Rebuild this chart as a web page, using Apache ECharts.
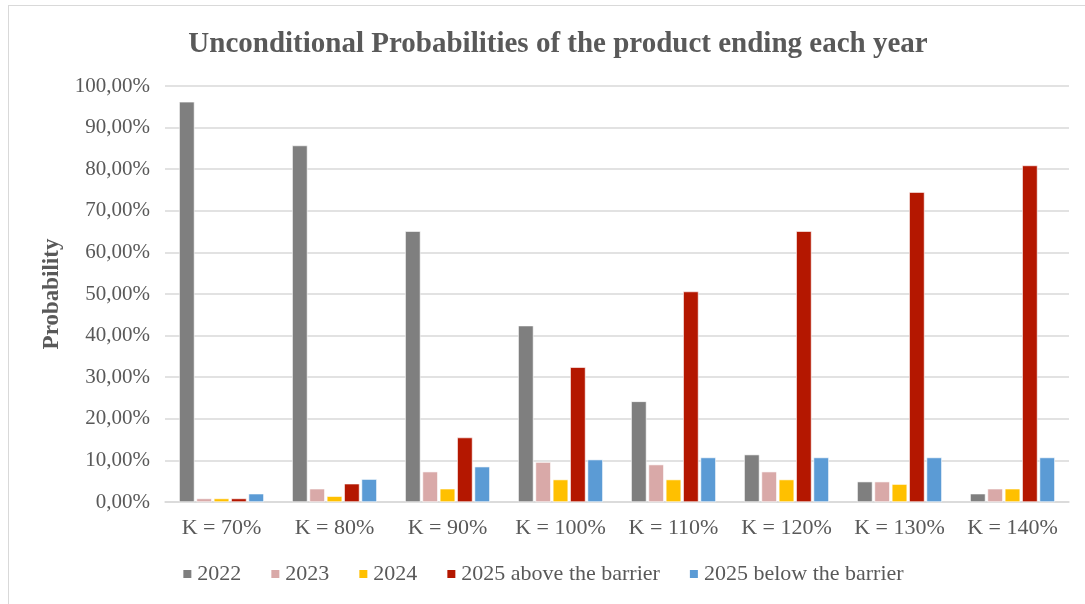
<!DOCTYPE html>
<html>
<head>
<meta charset="utf-8">
<script src="https://cdn.jsdelivr.net/npm/echarts@6/dist/echarts.min.js"></script>
<style>
  html, body { margin: 0; padding: 0; background: #fff; }
  #frame { position: absolute; left: 8px; top: 5px; width: 1100px; height: 620px; border: 1px solid #d9d9d9; box-sizing: border-box; }
  #chart { position: absolute; left: 0; top: 0; width: 1085px; height: 604px; }
</style>
</head>
<body>
<div id="frame"></div>
<div id="chart"></div>
<script>
// Strike levels
const categories = ['K = 70%', 'K = 80%', 'K = 90%', 'K = 100%', 'K = 110%', 'K = 120%', 'K = 130%', 'K = 140%'];

// Probability (%) of the product ending in each year, per strike
const y2022 = [96.2, 85.7, 65.1, 42.4, 24.2, 11.4, 4.9, 2.0];
const y2023 = [0.85, 3.2, 7.3, 9.6, 9.0, 7.3, 4.9, 3.2];
const y2024 = [0.85, 1.4, 3.2, 5.4, 5.4, 5.4, 4.3, 3.2];
const y2025Above = [0.85, 4.4, 15.5, 32.4, 50.6, 65.1, 74.5, 80.9];
const y2025Below = [2.0, 5.5, 8.5, 10.2, 10.7, 10.7, 10.7, 10.7];

const seriesNames = ['2022', '2023', '2024', '2025 above the barrier', '2025 below the barrier'];
const seriesColors = ['#7f7f7f', '#d9a9a8', '#ffc000', '#b41700', '#5b9bd5'];
const seriesData = [y2022, y2023, y2024, y2025Above, y2025Below];

const serif = '"Liberation Serif", "Times New Roman", serif';
const fmtPct = v => v.toFixed(2).replace('.', ',') + '%';

const chart = echarts.init(document.getElementById('chart'), null, { renderer: 'canvas' });
chart.setOption({
  animation: false,
  title: {
    text: 'Unconditional Probabilities of the product ending each year',
    left: 553, top: 25, textAlign: 'center',
    textStyle: { fontFamily: serif, fontSize: 29, fontWeight: 'bold', color: '#595959' }
  },
  legend: {
    bottom: 14, left: 'center',
    itemWidth: 10, itemHeight: 10, itemGap: 28, icon: 'rect',
    textStyle: { fontFamily: serif, fontSize: 22, color: '#595959' },
    data: seriesNames
  },
  grid: { left: 165, right: 16, top: 86, bottom: 102, containLabel: false },
  xAxis: {
    type: 'category', data: categories,
    axisLine: { lineStyle: { color: '#d9d9d9', width: 1.5 } },
    axisTick: { show: false },
    axisLabel: { interval: 0, hideOverlap: false, fontFamily: serif, fontSize: 22, color: '#595959', margin: 15 }
  },
  yAxis: {
    type: 'value', min: 0, max: 100, interval: 10,
    name: 'Probability', nameLocation: 'middle', nameGap: 100, nameRotate: 90,
    nameTextStyle: { fontFamily: serif, fontSize: 23, fontWeight: 'bold', color: '#595959' },
    axisLine: { show: false }, axisTick: { show: false },
    splitLine: { lineStyle: { color: '#d9d9d9', width: 1.5 } },
    axisLabel: { fontFamily: serif, fontSize: 21, color: '#595959', margin: 15, formatter: fmtPct }
  },
  series: seriesNames.map((name, i) => ({
    name, type: 'bar', data: seriesData[i],
    barGap: '13%', barCategoryGap: '25%',
    itemStyle: { color: seriesColors[i], borderColor: '#ffffff', borderWidth: 0.6 }
  }))
});
</script>
</body>
</html>
